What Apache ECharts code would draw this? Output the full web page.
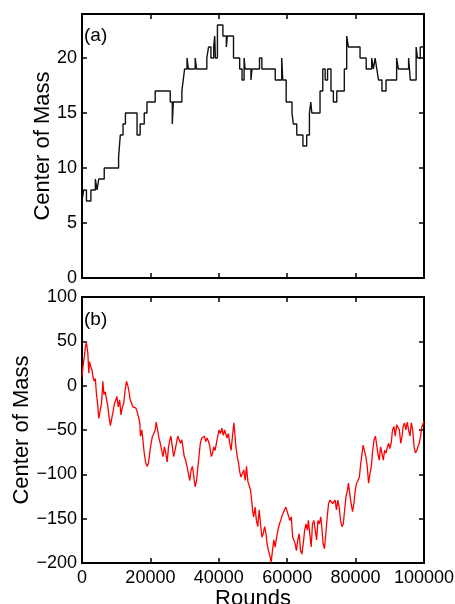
<!DOCTYPE html>
<html>
<head>
<meta charset="utf-8">
<script src="https://cdn.jsdelivr.net/npm/echarts@6/dist/echarts.min.js"></script>
<style>
  html, body { margin: 0; padding: 0; background: #fff; }
  #chart { width: 455px; height: 604px; }
</style>
</head>
<body>
<div id="chart"></div>
<script>
// (a) step trace: value holds from each round until the next one
const aRounds = [0, 500, 1300, 2600, 3900, 4400, 4900, 6500, 10700, 11200, 12000, 12700, 16100, 17000, 18200, 19000, 21400, 25800, 26400, 26700, 29200, 29600, 30000, 30700, 31100, 33100, 33500, 36500, 37000, 37700, 38500, 38800, 39000, 39600, 41200, 42200, 42500, 44300, 46100, 46800, 47400, 47700, 49400, 49700, 51900, 52600, 56500, 58400, 58700, 59700, 61400, 61800, 62800, 64600, 65700, 66500, 66900, 67200, 69600, 70400, 71100, 71800, 72800, 73500, 74500, 76700, 77400, 77900, 81300, 83100, 84700, 85200, 85700, 86200, 86700, 87700, 88900, 92000, 92500, 95500, 96000, 97700, 98100, 98900, 100000];
const aCom = [7, 8, 7, 8, 9, 8, 9, 10, 11, 13, 14, 15, 13, 14, 15, 16, 17, 16, 14, 16, 17, 18, 19, 20, 19, 20, 19, 20, 21, 20, 21, 22, 20, 23, 22, 21, 22, 20, 19, 18, 20, 19, 18, 19, 20, 19, 18, 20, 18, 16, 15, 14, 13, 12, 13, 15, 16, 15, 17, 19, 18, 19, 17, 16, 17, 19, 22, 21, 20, 19, 20, 19, 20, 19, 18, 17, 18, 20, 19, 20, 18, 21, 20, 21, 21];

// (b) trace
const bRounds = [0, 300, 700, 1000, 1300, 1700, 2000, 2200, 2600, 2900, 3200, 3600, 3900, 4200, 4600, 4900, 5400, 5700, 6000, 6100, 6400, 6800, 7100, 7500, 7900, 8300, 8700, 9100, 9500, 9900, 10200, 10600, 11000, 11400, 11800, 12200, 12600, 13000, 13400, 13800, 14100, 14500, 14900, 15300, 15700, 16100, 16500, 16900, 17100, 17500, 17900, 18200, 18600, 19000, 19400, 19800, 20200, 20600, 21000, 21400, 21700, 22100, 22500, 22900, 23300, 23700, 24100, 24500, 24900, 25300, 25700, 26000, 26400, 26800, 27200, 27600, 28000, 28400, 28800, 29200, 29500, 29900, 30300, 30700, 31100, 31500, 31900, 32300, 32700, 33100, 33500, 33900, 34200, 34600, 35000, 35400, 35800, 36200, 36600, 37000, 37400, 37800, 38200, 38500, 38900, 39300, 39700, 40100, 40500, 40900, 41300, 41700, 42000, 42400, 42800, 43200, 43600, 44000, 44400, 44600, 45000, 45400, 45800, 46100, 46500, 46900, 47300, 47700, 48100, 48500, 48900, 49300, 49700, 49900, 50200, 50600, 51000, 51400, 51800, 52200, 52600, 53000, 53400, 53800, 54100, 54500, 54900, 55300, 55700, 56100, 56500, 56900, 57300, 57700, 58100, 58400, 58800, 59200, 59600, 60000, 60400, 60800, 61200, 61600, 62000, 62300, 62700, 63100, 63500, 63900, 64300, 64700, 65100, 65500, 65900, 66200, 66600, 67000, 67400, 67800, 68200, 68600, 69000, 69400, 69800, 70100, 70500, 70900, 71300, 71700, 72100, 72500, 72900, 73300, 73700, 74000, 74400, 74800, 75200, 75600, 76000, 76400, 76800, 77200, 77600, 77900, 78300, 78700, 79100, 79500, 79900, 80300, 80700, 81100, 81500, 81900, 82200, 82600, 83000, 83400, 83800, 84200, 84600, 85000, 85400, 85800, 86100, 86500, 86900, 87300, 87700, 88100, 88500, 88900, 89300, 89700, 90000, 90400, 90800, 91200, 91600, 92000, 92400, 92800, 93200, 93600, 93900, 94300, 94700, 95100, 95500, 95900, 96300, 96700, 97100, 97500, 97900, 98200, 98600, 99000, 99400, 99800, 100000];
const bCom = [10, 22, 33, 44, 49, 37, 14, 27, 21, 18, 10, 5, 8, -8, -22, -37, -37, -20, -3, 5, -10, -7, -14, -22, -35, -45, -37, -29, -20, -16, -12, -24, -16, -33, -24, -20, -5, 5, 0, -8, -16, -20, -24, -22, -25, -29, -35, -42, -57, -50, -65, -76, -86, -91, -88, -76, -65, -57, -54, -50, -41, -50, -59, -65, -73, -80, -69, -76, -86, -69, -61, -57, -69, -80, -73, -65, -57, -56, -65, -61, -69, -80, -84, -91, -99, -107, -95, -91, -103, -114, -107, -91, -80, -65, -59, -61, -57, -63, -59, -63, -69, -80, -76, -69, -73, -65, -57, -50, -54, -48, -56, -50, -54, -59, -54, -65, -73, -57, -42, -50, -69, -80, -88, -97, -103, -99, -95, -107, -91, -108, -110, -118, -133, -142, -148, -137, -152, -159, -140, -156, -171, -167, -159, -167, -178, -186, -191, -199, -186, -174, -182, -171, -163, -156, -152, -148, -144, -140, -137, -142, -144, -152, -148, -171, -172, -178, -186, -174, -167, -186, -190, -178, -163, -156, -163, -152, -167, -182, -156, -152, -163, -174, -152, -156, -148, -159, -178, -184, -167, -148, -133, -129, -127, -133, -131, -129, -140, -129, -137, -152, -159, -156, -140, -125, -118, -110, -122, -133, -142, -133, -118, -110, -107, -103, -88, -76, -67, -69, -80, -91, -110, -99, -91, -73, -61, -57, -57, -76, -84, -69, -76, -84, -73, -76, -69, -65, -71, -65, -50, -46, -57, -44, -42, -50, -65, -57, -46, -42, -50, -41, -50, -57, -42, -50, -69, -76, -73, -69, -65, -57, -46, -42, -40];

const xTicks = [0, 20000, 40000, 60000, 80000, 100000];
const aTicks = [0, 5, 10, 15, 20];
const bTicks = [-200, -150, -100, -50, 0, 50, 100];

const font = "'Liberation Sans', Arial, sans-serif";
const chart = echarts.init(document.getElementById("chart"));

const tick = { show: true, inside: true, length: 5, lineStyle: { color: "#000", width: 1.5 } };
const noLine = { show: false, onZero: false };
const minus = v => String(v).replace("-", "\u2212");

// bottom/left axes carry labels; top/right ones only mirror the ticks
const xAxis = (grid, labels) => ({
  type: "value", gridIndex: grid, position: "bottom", min: 0, max: 100000, interval: 20000,
  axisLine: noLine, splitLine: { show: false }, axisTick: tick,
  axisLabel: {
    show: labels, color: "#000", fontSize: 18, fontFamily: font, margin: 6,
    formatter: v => xTicks.includes(v) ? String(v) : ""
  },
  name: labels ? "Rounds" : "", nameLocation: "middle", nameGap: 25, nameMoveOverlap: false,
  nameTextStyle: { color: "#000", fontSize: 22, fontFamily: font, verticalAlign: "top" }
});
const xMirror = grid => ({
  type: "value", gridIndex: grid, position: "top", min: 0, max: 100000, interval: 20000,
  axisLine: noLine, splitLine: { show: false }, axisTick: tick, axisLabel: { show: false }
});
const yAxis = (grid, min, max, step, ticks, gap) => ({
  type: "value", gridIndex: grid, position: "left", min: min, max: max, interval: step,
  axisLine: noLine, splitLine: { show: false }, axisTick: tick,
  axisLabel: {
    color: "#000", fontSize: 18, fontFamily: font, margin: 5,
    formatter: v => ticks.includes(v) ? minus(v) : ""
  },
  name: "Center of Mass", nameLocation: "middle", nameGap: gap, nameMoveOverlap: false,
  nameTextStyle: { color: "#000", fontSize: 22, fontFamily: font }
});
const yMirror = (grid, min, max, step) => ({
  type: "value", gridIndex: grid, position: "right", min: min, max: max, interval: step,
  axisLine: noLine, splitLine: { show: false }, axisTick: tick, axisLabel: { show: false }
});

chart.setOption({
  animation: false,
  backgroundColor: "#fff",
  grid: [
    { left: 82, right: 31, top: 14, height: 264, outerBoundsMode: "none", containLabel: false,
      show: true, borderColor: "#000", borderWidth: 2, backgroundColor: "transparent" },
    { left: 82, right: 31, top: 297, height: 266, outerBoundsMode: "none", containLabel: false,
      show: true, borderColor: "#000", borderWidth: 2, backgroundColor: "transparent" }
  ],
  xAxis: [xAxis(0, false), xAxis(1, true), xMirror(0), xMirror(1)],
  yAxis: [
    yAxis(0, 0, 24, 5, aTicks, 28),
    yAxis(1, -200, 100, 50, bTicks, 49),
    yMirror(0, 0, 24, 5),
    yMirror(1, -200, 100, 50)
  ],
  graphic: [
    { type: "text", left: 84, top: 26, style: { text: "(a)", font: "19px " + font, fill: "#000" } },
    { type: "text", left: 84, top: 310, style: { text: "(b)", font: "19px " + font, fill: "#000" } }
  ],
  series: [
    {
      type: "line", xAxisIndex: 0, yAxisIndex: 0, step: "end", symbol: "none",
      data: aRounds.map((r, i) => [r, aCom[i]]),
      lineStyle: { color: "#111", width: 1.4 }
    },
    {
      type: "line", xAxisIndex: 1, yAxisIndex: 1, symbol: "none",
      data: bRounds.map((r, i) => [r, bCom[i]]),
      lineStyle: { color: "#ff0000", width: 1.3 }
    }
  ]
});
</script>
</body>
</html>
